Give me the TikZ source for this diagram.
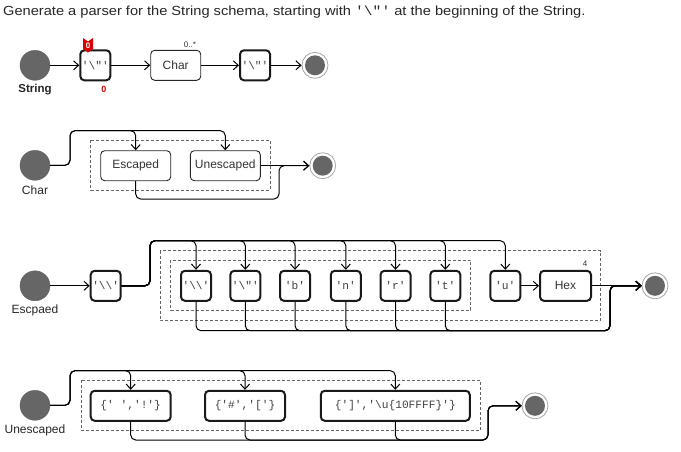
\documentclass[tikz,border=0pt]{standalone}
\usepackage{fontspec}
\setmainfont{Liberation Sans}
\newfontfamily\mono{Liberation Mono}
\usetikzlibrary{arrows.meta}
\newcommand{\sq}{\symbol{39}}
\newcommand{\bsl}{\symbol{92}}
\newcommand{\dq}{\symbol{34}}
\begin{document}
\begin{tikzpicture}[x=1pt,y=-1pt,
  term/.style={draw=black!90, line width=2pt, rounded corners=4pt, minimum width=30pt, minimum height=30pt, inner sep=0pt, font=\mono\fontsize{11.2}{11.2}\selectfont, text=black!75},
  nt/.style={draw=black!85, line width=0.9pt, rounded corners=4pt, minimum height=30pt, inner sep=0pt, font=\fontsize{12}{12}\selectfont, text=black!80},
  startc/.style={circle, fill=black!60, draw=black!62, minimum size=30pt, inner sep=0pt},
  endo/.style={circle, draw=black!35, line width=0.8pt, fill=white, minimum size=26pt, inner sep=0pt},
  endi/.style={circle, fill=black!60, minimum size=20pt, inner sep=0pt},
  conn/.style={line width=1pt, rounded corners=5pt},
  arr/.style={-{Straight Barb[length=5pt,width=9pt]}},
  grp/.style={draw=black!60, dash pattern=on 3pt off 2pt, line width=0.6pt},
  lab/.style={font=\fontsize{12}{12}\selectfont, text=black!85},
  small/.style={font=\fontsize{8}{8}\selectfont, text=black!80}
]
\useasboundingbox (0,0) rectangle (681,451);

% title
\node[anchor=west, inner sep=0pt, font=\fontsize{13.2}{13.2}\selectfont, text=black!85] (title) at (3,12)
  {\scalebox{1.108}[1]{Generate a parser for the String schema, starting with {\mono\sq\bsl\dq\sq} at the beginning of the String.}};

% ---------------- Row 1: String
\node[startc] (s1) at (35,65.3) {};
\node[lab, font=\bfseries\fontsize{11.5}{11.5}\selectfont] (l1) at (35,90) {String};
\node[term] (a1) at (95.3,65.3) {\sq\bsl\dq\sq};
\node[nt, minimum width=50pt] (char) at (175.7,65.3) {Char};
\node[small] (mult) at (190,45) {0..*};
\node[term] (a3) at (255,65.3) {\sq\bsl\dq\sq};
\node[endo] (e1) at (315,65.3) {};
\node[endi] (e1i) at (e1) {};
\fill[red!85!black] (83,38) -- (88,41.5) -- (93,38) -- (93,49) -- (88,52.5) -- (83,49) -- cycle;
\node[text=white, font=\bfseries\fontsize{8}{8}\selectfont, inner sep=0pt] (flag) at (88,45.5) {0};
\node[text=red!85!black, font=\bfseries\fontsize{9}{9}\selectfont] (red0) at (104,89) {0};
\draw[conn,arr] (s1) -- (a1);
\draw[conn,arr] (a1) -- (char);
\draw[conn,arr] (char) -- (a3);
\draw[conn,arr] (a3) -- (e1);

% ---------------- Row 2: Char
\node[startc] (s2) at (35,165.3) {};
\node[lab] (l2) at (35,190) {Char};
\draw[grp] (90.7,140) rectangle (270,190);
\node[nt, minimum width=70pt] (esc) at (135.7,165.7) {Escaped};
\node[nt, minimum width=70pt] (unesc) at (225.3,165.7) {Unescaped};
\node[endo] (e2) at (322.7,165.7) {};
\node[endi] (e2i) at (e2) {};
\coordinate (t2) at (70,130.7);
\coordinate (b2) at (279,199);
\draw[conn,arr] (s2.east) -| (t2) -| (esc.north);
\draw[conn,arr] (s2.east) -| (t2) -| (unesc.north);
\draw[conn,arr] (unesc) -- (e2);
\draw[conn,arr] (esc.south) |- (b2) |- (e2.west);

% ---------------- Row 3: Escpaed
\node[startc] (s3) at (35,285.8) {};
\node[lab] (l3) at (35,310) {Escpaed};
\draw[grp] (160,250.7) rectangle (600.7,320.7);
\draw[grp] (170.7,260) rectangle (470.7,310);
\node[term] (q0) at (105.7,285.8) {\sq\bsl\bsl\sq};
\node[term] (k1) at (196,285.8) {\sq\bsl\bsl\sq};
\node[term] (k2) at (245.3,285.8) {\sq\bsl\dq\sq};
\node[term] (k3) at (295,285.8) {\sq b\sq};
\node[term] (k4) at (345.8,285.8) {\sq n\sq};
\node[term] (k5) at (395.5,285.8) {\sq r\sq};
\node[term] (k6) at (445.3,285.8) {\sq t\sq};
\node[term] (ku) at (505.3,285.8) {\sq u\sq};
\node[nt, line width=2pt, draw=black!90, minimum width=51pt] (hex) at (565.5,285.8) {Hex};
\node[small] (four) at (585,264) {4};
\node[endo] (e3) at (655,285.8) {};
\node[endi] (e3i) at (e3) {};
\coordinate (t3) at (150,240.7);
\coordinate (b3) at (610,330.7);
\draw[conn,arr] (s3) -- (q0);
\foreach \k in {k1,k2,k3,k4,k5,k6,ku}
  \draw[conn,arr] (q0.east) -| (t3) -| (\k.north);
\foreach \k in {k1,k2,k3,k4,k5,k6}
  \draw[conn,arr] (\k.south) |- (b3) |- (e3.west);
\draw[conn,arr] (ku) -- (hex);
\draw[conn,arr] (hex) -- (e3);

% ---------------- Row 4: Unescaped
\node[startc] (s4) at (35,405.3) {};
\node[lab] (l4) at (35,430) {Unescaped};
\draw[grp] (81,380) rectangle (480.7,430);
\node[term, minimum width=80pt] (c1) at (130.7,405.8) {\{\sq\ \sq,\sq!\sq\}};
\node[term, minimum width=80pt] (c2) at (245,405.8) {\{\sq\#\sq,\sq[\sq\}};
\node[term, minimum width=149pt] (c3) at (395.3,405.8) {\{\sq]\sq,\sq\bsl u\{10FFFF\}\sq\}};
\node[endo] (e4) at (535,405.8) {};
\node[endi] (e4i) at (e4) {};
\coordinate (t4) at (70,370.7);
\coordinate (b4) at (488,440);
\foreach \c in {c1,c2,c3}
  \draw[conn,arr] (s4.east) -| (t4) -| (\c.north);
\foreach \c in {c1,c2,c3}
  \draw[conn,arr] (\c.south) |- (b4) |- (e4.west);
\end{tikzpicture}
\end{document}
